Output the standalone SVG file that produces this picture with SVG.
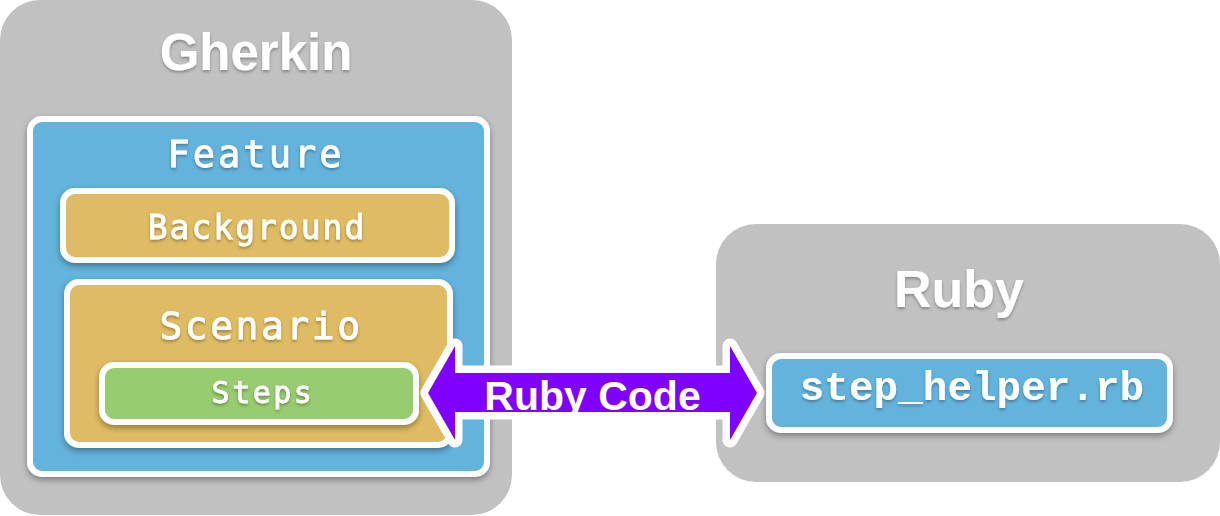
<svg xmlns="http://www.w3.org/2000/svg" width="1220" height="516" viewBox="0 0 1220 516">
<defs>
<filter id="sh" x="-10%" y="-10%" width="120%" height="130%">
<feDropShadow dx="0" dy="3" stdDeviation="3" flood-color="#000" flood-opacity="0.35"/>
</filter>
<filter id="tsh" x="-10%" y="-20%" width="120%" height="150%">
<feDropShadow dx="0" dy="2" stdDeviation="1.5" flood-color="#000" flood-opacity="0.3"/>
</filter>
</defs>
<style>
.group{fill:#c1c1c1}
.box{stroke:#fff;stroke-width:6}
.blue{fill:#63b3dd}
.gold{fill:#dfbc64}
.green{fill:#98cc6f}
.title{font-family:"Liberation Sans",Arial,sans-serif;font-weight:bold;fill:#fff;text-anchor:middle}
.mono{font-family:"DejaVu Sans Mono",monospace;fill:#fff;stroke:#fff;stroke-width:0.8;text-anchor:middle}
.code{font-family:"Liberation Mono","Courier New",monospace;font-weight:bold;fill:#fff;text-anchor:middle}
</style>
<g id="gherkin">
<rect class="group" x="0" y="0" width="512" height="515" rx="40"/>
<text class="title" x="256" y="70" font-size="51" filter="url(#tsh)">Gherkin</text>
</g>
<g id="feature">
<rect class="box blue" x="30" y="119" width="457" height="355" rx="12" filter="url(#sh)"/>
<text class="mono" x="256" y="167" font-size="37" letter-spacing="3" filter="url(#tsh)">Feature</text>
</g>
<g id="background">
<rect class="box gold" x="63" y="191" width="389" height="69" rx="12" filter="url(#sh)"/>
<text class="mono" x="257" y="239" font-size="33" letter-spacing="2" filter="url(#tsh)">Background</text>
</g>
<g id="scenario">
<rect class="box gold" x="67" y="282" width="383" height="163" rx="12" filter="url(#sh)"/>
<text class="mono" x="261" y="339" font-size="38" letter-spacing="2.5" filter="url(#tsh)">Scenario</text>
</g>
<g id="steps">
<rect class="box green" x="102" y="365" width="314" height="57" rx="12" filter="url(#sh)"/>
<text class="mono" x="263" y="403" font-size="30" letter-spacing="2.5" filter="url(#tsh)">Steps</text>
</g>
<g id="ruby">
<rect class="group" x="716" y="224" width="504" height="258" rx="40"/>
<text class="title" x="959" y="307" font-size="52" filter="url(#tsh)">Ruby</text>
</g>
<g id="step_helper">
<rect class="box blue" x="769" y="356" width="401" height="74" rx="12" filter="url(#sh)"/>
<text class="code" x="972" y="400" font-size="41" filter="url(#tsh)">step_helper.rb</text>
</g>
<g id="connectors">
<polygon points="428,393 455,346 455,373 730,373 730,346 757,393 730,440 730,412 455,412 455,440" fill="#8000ff" stroke="#fff" stroke-width="15" stroke-linejoin="round" paint-order="stroke"/>
<text class="title" x="592.5" y="410" font-size="41">Ruby Code</text>
</g>
</svg>
